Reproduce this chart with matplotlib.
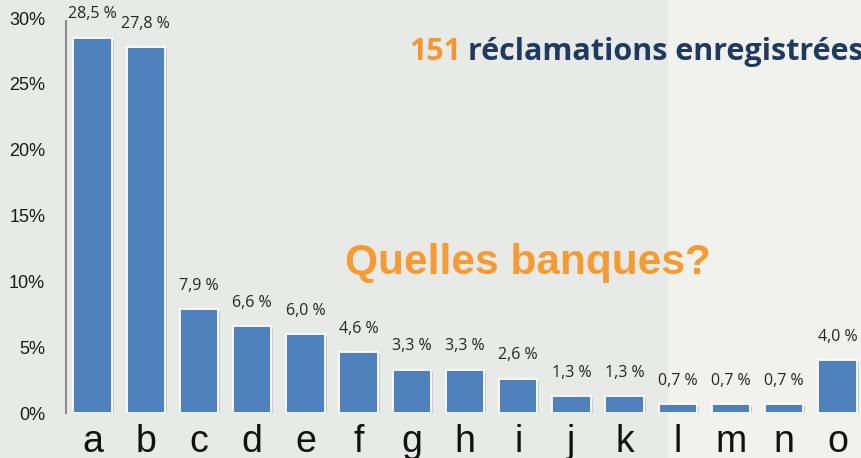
import matplotlib
matplotlib.use("Agg")
import matplotlib.pyplot as plt
from matplotlib.patches import Rectangle

categories = ["a", "b", "c", "d", "e", "f", "g", "h", "i", "j", "k", "l", "m", "n", "o"]
values = [28.5, 27.8, 7.9, 6.6, 6.0, 4.6, 3.3, 3.3, 2.6, 1.3, 1.3, 0.7, 0.7, 0.7, 4.0]
value_labels = ["28,5 %", "27,8 %", "7,9 %", "6,6 %", "6,0 %", "4,6 %", "3,3 %", "3,3 %",
                "2,6 %", "1,3 %", "1,3 %", "0,7 %", "0,7 %", "0,7 %", "4,0 %"]
yticks = [0, 5, 10, 15, 20, 25, 30]
ytick_labels = ["0%", "5%", "10%", "15%", "20%", "25%", "30%"]

W, H = 862, 458
fig = plt.figure(figsize=(W / 100, H / 100), dpi=100)
fig.patch.set_facecolor("#E8EAE7")
# lighter right panel of the slide background
fig.patches.append(Rectangle((668 / W, 0), 1 - 668 / W, 1, transform=fig.transFigure,
                             facecolor="#F1F2EE", edgecolor="none", zorder=-5))

x0, x1 = 66, 864
y0, y1 = 413, 18
ax = fig.add_axes([x0 / W, 1 - y0 / H, (x1 - x0) / W, (y0 - y1) / H], zorder=2)
ax.set_facecolor("none")

xs = list(range(len(categories)))
# soft shadow
ax.bar([x + 0.04 for x in xs], values, width=0.72, bottom=-0.15, color="#C9CBC8",
       edgecolor="none", zorder=1)
ax.bar(xs, values, width=0.72, color="#4F81BD", edgecolor="white", linewidth=1.3, zorder=2)

for x, v, lab in zip(xs, values, value_labels):
    ax.annotate(lab, (x, v), xytext=(0, 11), textcoords="offset points", ha="center",
                va="bottom", fontsize=11.5, family="Open Sans", color="#262626",
                annotation_clip=False)

ax.set_xlim(-0.5, 14.5)
ax.set_ylim(0, 30)
ax.set_yticks(yticks)
ax.set_yticklabels(ytick_labels, fontsize=13, family="Liberation Sans", color="#1a1a1a")
ax.set_xticks(xs)
ax.set_xticklabels(categories, fontsize=27, family="Liberation Sans", color="#111111")
ax.tick_params(axis="both", length=0)
ax.tick_params(axis="y", pad=15)
ax.tick_params(axis="x", pad=8)
for s in ["top", "right", "bottom"]:
    ax.spines[s].set_visible(False)
ax.spines["left"].set_color("#8C8C8C")
ax.spines["left"].set_linewidth(1.5)
ax.spines["left"].set_bounds(0, 29.8)

# titles
t1 = fig.text(409 / W, 1 - 60 / H, "151", fontsize=22, fontweight="bold",
              family="Open Sans", color="#F7952F", ha="left", va="baseline", zorder=3)
fig.canvas.draw()
bb = t1.get_window_extent()
fig.text(bb.x1 / W + 7 / W, 1 - 60 / H, "réclamations enregistrées", fontsize=22,
         fontweight="bold", family="Open Sans", color="#1F3A60", ha="left", va="baseline",
         zorder=3)

fig.text(528 / W, 1 - 263 / H, "Quelles banques?", fontsize=30.5, fontweight="bold",
         family="Liberation Sans", color="#F79A32", ha="center", va="center", zorder=3)

fig.savefig("out.png", dpi=100, facecolor=fig.get_facecolor())
